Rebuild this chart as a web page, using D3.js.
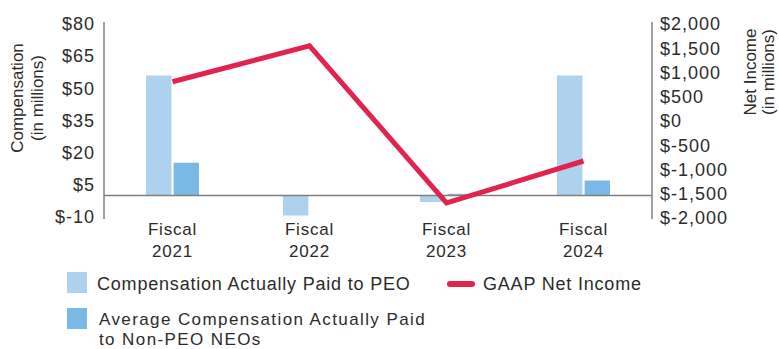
<!DOCTYPE html>
<html><head><meta charset="utf-8">
<script src="https://cdn.jsdelivr.net/npm/d3@7"></script>
<style>
body{margin:0;background:#fff;}
text{font-family:"Liberation Sans",Arial,sans-serif;fill:#2b2b2b;}
</style></head>
<body><svg id="c" width="779" height="349"></svg>
<script>
const categories = ["Fiscal 2021","Fiscal 2022","Fiscal 2023","Fiscal 2024"];
const peoComp = [56, -9.3, -3, 56];
const neoComp = [15.3, 0, 0.8, 7];
const netIncome = [810, 1550, -1690, -825];
const leftTicks = [-10, 5, 20, 35, 50, 65, 80];
const rightTicks = [-2000, -1500, -1000, -500, 0, 500, 1000, 1500, 2000];
const seriesNames = ["Compensation Actually Paid to PEO","Average Compensation Actually Paid to Non-PEO NEOs","GAAP Net Income"];

const colors = {peo:"#aed2ee", neo:"#7ab8e5", line:"#e0244e", axis:"#7f7f7f"};
const svg = d3.select("#c");
const L = 104, R = 652;
const x0 = d3.scaleBand().domain(categories).range([L, R]).padding(0);
const x1 = d3.scaleBand().domain(["peo","neo"]).range([-26.5, 26.5]).paddingInner(0.08);
const yL = d3.scaleLinear().domain([-10, 80]).range([217, 24]);
const yR = d3.scaleLinear().domain([-2000, 2000]).range([218, 24]);
const cx = c => x0(c) + x0.bandwidth()/2;

// axes lines
svg.append("line").attr("x1",L).attr("x2",L).attr("y1",22).attr("y2",219).attr("stroke",colors.axis).attr("stroke-width",1.5);
svg.append("line").attr("x1",R).attr("x2",R).attr("y1",22).attr("y2",219).attr("stroke",colors.axis).attr("stroke-width",1.5);

// tick labels
const fmtR = d => (d < 0 ? "$-" : "$") + d3.format(",")(Math.abs(d));
svg.append("g").selectAll("text").data(leftTicks).join("text")
  .attr("x", L-9).attr("y", d=>yL(d)).attr("dy","0.35em").attr("text-anchor","end")
  .style("font-size","18px").style("letter-spacing","1px")
  .text(d=>"$"+d);
svg.append("g").selectAll("text").data(rightTicks).join("text")
  .attr("x", R+8).attr("y", d=>yR(d)).attr("dy","0.35em").attr("text-anchor","start")
  .style("font-size","18px").style("letter-spacing","1px")
  .text(fmtR);

// axis titles
const lt = svg.append("text").attr("transform","translate(23,98) rotate(-90)").attr("text-anchor","middle").style("font-size","17px");
lt.append("tspan").attr("x",0).attr("dy","0").text("Compensation");
lt.append("tspan").attr("x",0).attr("dy","1.15em").text("(in millions)");
const rt = svg.append("text").attr("transform","translate(756,72) rotate(-90)").attr("text-anchor","middle").style("font-size","17px");
rt.append("tspan").attr("x",0).attr("dy","0").text("Net Income");
rt.append("tspan").attr("x",0).attr("dy","1.05em").text("(in millions)");

// bars
const barData = [];
categories.forEach((c,i)=>{
  barData.push({c, k:"peo", v:peoComp[i]});
  barData.push({c, k:"neo", v:neoComp[i]});
});
svg.append("g").selectAll("rect").data(barData).join("rect")
  .attr("x", d=>cx(d.c)+x1(d.k)).attr("width", x1.bandwidth())
  .attr("y", d=>Math.min(yL(d.v), yL(0))).attr("height", d=>Math.abs(yL(d.v)-yL(0)))
  .attr("fill", d=>colors[d.k]);

// baseline
svg.append("line").attr("x1",L).attr("x2",R).attr("y1",yL(0)).attr("y2",yL(0)).attr("stroke",colors.axis).attr("stroke-width",1.5);

// line
const line = d3.line().x((d,i)=>cx(categories[i])).y(d=>yR(d));
svg.append("path").datum(netIncome).attr("d",line).attr("fill","none")
  .attr("stroke",colors.line).attr("stroke-width",5).attr("stroke-linejoin","miter");

// x labels
const xl = svg.append("g").selectAll("text").data(categories).join("text")
  .attr("x", d=>cx(d)).attr("y", 229).attr("text-anchor","middle")
  .style("font-size","17px").style("letter-spacing","0.8px");
xl.append("tspan").attr("x",d=>cx(d)).attr("dy","0.35em").text(d=>d.split(" ")[0]);
xl.append("tspan").attr("x",d=>cx(d)).attr("dy","1.3em").text(d=>d.split(" ")[1]);

// legend
const lg = svg.append("g");
lg.append("rect").attr("x",67).attr("y",272).attr("width",20).attr("height",21).attr("fill",colors.peo);
lg.append("text").attr("x",97).attr("y",284).attr("dy","0.35em").style("font-size","18px").style("letter-spacing","0.8px").text(seriesNames[0]);
lg.append("rect").attr("x",67).attr("y",308).attr("width",20).attr("height",21).attr("fill",colors.neo);
const t2 = lg.append("text").style("font-size","17px").style("letter-spacing","1.4px");
t2.append("tspan").attr("x",99).attr("y",319).attr("dy","0.35em").text("Average Compensation Actually Paid");
t2.append("tspan").attr("x",99).attr("y",339).attr("dy","0.35em").text("to Non-PEO NEOs");
lg.append("line").attr("x1",450).attr("x2",472).attr("y1",284).attr("y2",284).attr("stroke",colors.line).attr("stroke-width",6).attr("stroke-linecap","round");
lg.append("text").attr("x",483).attr("y",284).attr("dy","0.35em").style("font-size","18px").style("letter-spacing","0.8px").text(seriesNames[2]);
</script></body></html>
